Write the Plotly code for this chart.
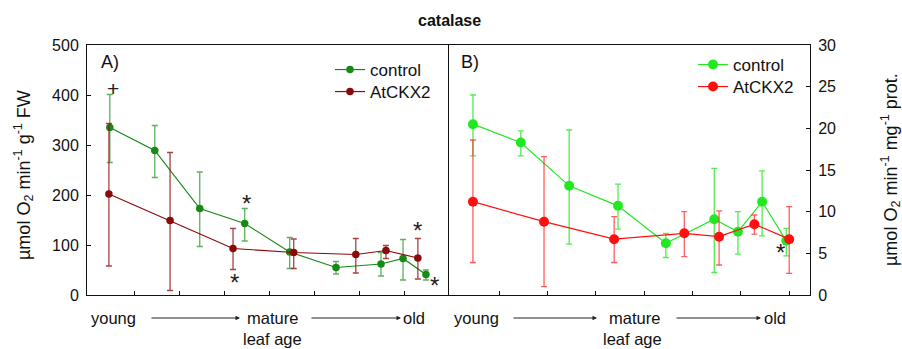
import plotly.graph_objects as go

W, H = 902, 349

# ---------------- data ----------------
# Panel A (per g FW)
a_ctrl_x = [0.44, 1.44, 2.44, 3.44, 4.44, 5.47, 6.47, 6.96, 7.47]
a_ctrl_y = [335, 289, 173, 143, 86, 55, 62, 73, 41]
a_ctrl_hi = [401, 339, 246, 173, 115, 67, 85, 111, 50]
a_ctrl_lo = [265, 235, 97, 108, 53, 42, 38, 30, 30]

a_ckx_x = [0.42, 1.78, 3.18, 4.53, 5.91, 6.58, 7.29]
a_ckx_y = [202, 149, 93, 85, 81, 89, 74]
a_ckx_hi = [343, 285, 133, 112, 113, 99, 113]
a_ckx_lo = [58, 9, 51, 53, 44, 73, 32]

# Panel B (per mg protein)
b_ctrl_x = [0.46, 1.45, 2.45, 3.46, 4.45, 5.45, 5.94, 6.44, 6.94]
b_ctrl_y = [20.5, 18.3, 13.1, 10.7, 6.2, 9.1, 7.6, 11.2, 6.5]
b_ctrl_hi = [24.0, 19.7, 19.8, 13.3, 7.4, 15.2, 10.0, 14.9, 8.0]
b_ctrl_lo = [16.7, 16.7, 6.1, 7.9, 4.5, 2.7, 4.9, 7.1, 4.7]

b_ckx_x = [0.46, 1.93, 3.38, 4.83, 5.55, 6.28, 7.00]
b_ckx_y = [11.2, 8.8, 6.7, 7.4, 7.0, 8.5, 6.7]
b_ckx_hi = [18.6, 16.6, 9.4, 10.0, 10.1, 9.6, 10.6]
b_ckx_lo = [3.9, 1.0, 3.9, 4.6, 3.6, 7.3, 2.6]

series_names = ["control", "AtCKX2"]
a_yticks = [0, 100, 200, 300, 400, 500]
b_yticks = [0, 5, 10, 15, 20, 25, 30]
age_ticks = [1, 2, 3, 4, 5, 6, 7]
age_words = ["young", "mature", "old"]

FONT = "Liberation Sans, Arial, sans-serif"


def px(x):
    return x / W


def py(y):
    return 1 - y / H


def err(y, hi, lo):
    return [h - v for h, v in zip(hi, y)], [v - l for v, l in zip(y, lo)]


fig = go.Figure()


def add_series(x, y, hi, lo, name, line_col, err_col, msize, xa, ya, legend):
    plus, minus = err(y, hi, lo)
    fig.add_trace(go.Scatter(
        x=x, y=y, name=name, mode="lines+markers",
        line=dict(color=line_col, width=1.2),
        marker=dict(color=line_col, size=msize),
        error_y=dict(type="data", symmetric=False, array=plus, arrayminus=minus,
                     color=err_col, thickness=1.3, width=3),
        xaxis=xa, yaxis=ya, legend=legend,
    ))


add_series(a_ctrl_x, a_ctrl_y, a_ctrl_hi, a_ctrl_lo, series_names[0],
           "#168a16", "rgba(40,150,40,0.75)", 7.5, "x", "y", "legend")
add_series(a_ckx_x, a_ckx_y, a_ckx_hi, a_ckx_lo, series_names[1],
           "#8a0a0a", "rgba(140,20,20,0.8)", 7.5, "x", "y", "legend2")
add_series(b_ctrl_x, b_ctrl_y, b_ctrl_hi, b_ctrl_lo, series_names[0],
           "#22e822", "rgba(40,230,40,0.8)", 10, "x2", "y2", "legend3")
add_series(b_ckx_x, b_ckx_y, b_ckx_hi, b_ckx_lo, series_names[1],
           "#ff1010", "rgba(255,40,40,0.75)", 10, "x2", "y2", "legend4")

ydom = [py(295), py(45)]
axis_common = dict(showgrid=False, zeroline=False, showline=True, mirror=True,
                   linecolor="#111", linewidth=1, ticks="inside", ticklen=4,
                   tickcolor="#111", tickfont=dict(family=FONT, size=16, color="#111"))


def legend_box(xp, yp):
    return dict(x=px(xp), y=py(yp), xanchor="left", yanchor="top",
                bgcolor="rgba(0,0,0,0)", font=dict(family=FONT, size=17),
                tracegroupgap=0, itemwidth=30)


fig.update_layout(
    width=W, height=H,
    margin=dict(l=0, r=0, t=0, b=0, autoexpand=False),
    paper_bgcolor="white", plot_bgcolor="white",
    font=dict(family=FONT, color="#111"),
    xaxis=dict(domain=[px(87), px(448)], range=[-0.067, 7.96],
               tickvals=age_ticks, showticklabels=False, **axis_common),
    yaxis=dict(domain=ydom, range=[0, 500], tickvals=a_yticks,
               ticklabelstandoff=4, **axis_common),
    xaxis2=dict(domain=[px(449), px(810)], range=[-0.035, 7.43],
                tickvals=age_ticks, showticklabels=False, anchor="y2", **axis_common),
    yaxis2=dict(domain=ydom, range=[0, 30], tickvals=b_yticks, side="right",
                anchor="x2", ticklabelstandoff=4, **axis_common),
    legend=legend_box(330, 52),
    legend2=legend_box(330, 74),
    legend3=legend_box(693, 47),
    legend4=legend_box(693, 69),
    showlegend=True,
)

ann = []


def ptext(text, x, y, size, xanchor="center", angle=0, bold=False):
    ann.append(dict(text=f"<b>{text}</b>" if bold else text, x=px(x), y=py(y),
                    xref="paper", yref="paper", xanchor=xanchor, yanchor="middle",
                    textangle=angle, showarrow=False,
                    font=dict(family=FONT, size=size, color="#111")))


# title and panel labels
ptext("catalase", 449, 21, 16, bold=True)
ptext("A)", 99, 62, 18, xanchor="left")
ptext("B)", 459, 62, 18, xanchor="left")

# y axis titles
ptext("µmol O<sub>2</sub> min<sup>-1</sup> g<sup>-1</sup> FW", 23, 175, 18, angle=-90)
ptext("µmol O<sub>2</sub> min<sup>-1</sup> mg<sup>-1</sup> prot.", 890, 170, 18, angle=-90)


# leaf-age labels
def age_row(young_c, arrow1, mature_c, arrow2, old_c, leaf_c):
    for word, cx in zip(age_words, [young_c, mature_c, old_c]):
        ptext(word, cx, 318, 16.5)
    for a0, a1 in (arrow1, arrow2):
        ann.append(dict(text="", x=px(a1), y=py(318), xref="paper", yref="paper",
                        ax=-(a1 - a0), ay=0, showarrow=True, arrowhead=2,
                        arrowsize=0.9, arrowwidth=1, arrowcolor="#222"))
    ptext("leaf age", leaf_c, 339, 16.5)


age_row(113, (150, 240), 272, (310, 401), 414, 272)
age_row(476, (512, 597), 634, (675, 761), 775, 632)


# significance marks anchored to data points
def mark(sym, x, y, xs, ys, size=24, xa="x", ya="y"):
    ann.append(dict(text=sym, x=x, y=y, xref=xa, yref=ya, showarrow=False,
                    xanchor="center", yanchor="middle",
                    xshift=xs, yshift=ys, font=dict(family=FONT, size=size, color="#222")))


mark("+", a_ctrl_x[0], a_ctrl_hi[0], 3, 6, size=21)
mark("*", a_ctrl_x[3], a_ctrl_hi[3], 2, 5)
mark("*", a_ckx_x[2], a_ckx_lo[2], 1, -13)
mark("*", a_ckx_x[6], a_ckx_hi[6], 0, 8)
mark("*", a_ctrl_x[8], a_ctrl_y[8], 9, -11)
mark("*", b_ctrl_x[8], b_ctrl_y[8], -6, -12, xa="x2", ya="y2")

fig.update_layout(annotations=ann)
fig.write_html("out.html")
